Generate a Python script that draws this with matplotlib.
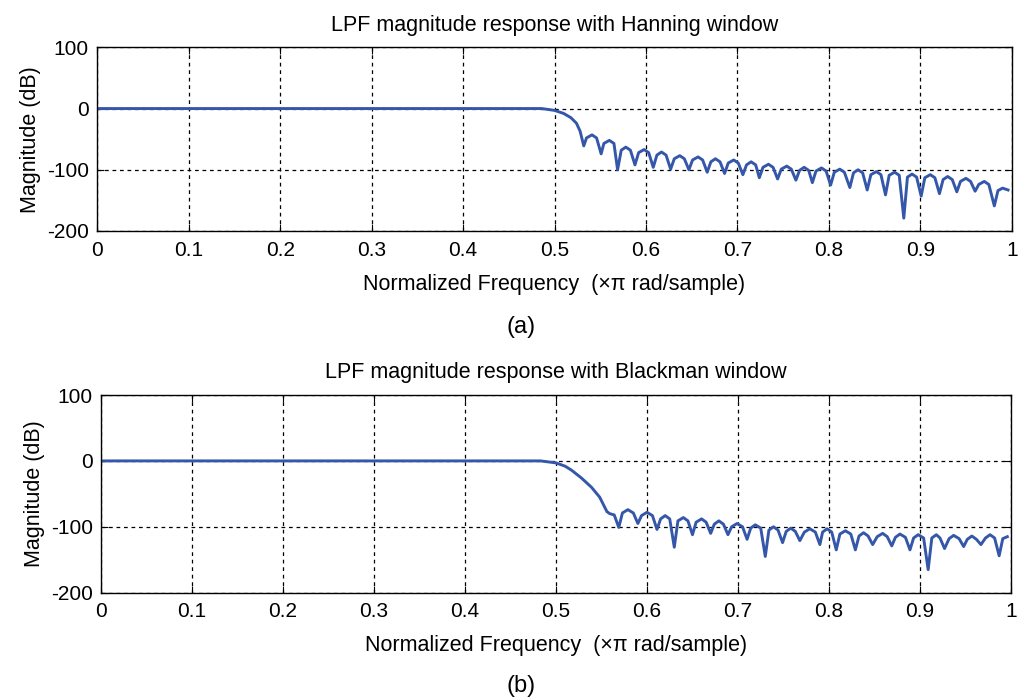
import matplotlib
matplotlib.use("Agg")
import matplotlib.pyplot as plt

plt.rcParams['font.family'] = ['Liberation Sans', 'DejaVu Sans']
plt.rcParams['axes.unicode_minus'] = False

# Hanning window response (normalized freq, dB)
han_freq = [0.000, 0.486, 0.500, 0.510, 0.518, 0.524, 0.528,
            0.532, 0.535, 0.541, 0.546, 0.551, 0.554, 0.560, 0.565,
            0.569, 0.573, 0.578, 0.583, 0.588, 0.592, 0.598, 0.603,
            0.608, 0.612, 0.617, 0.622, 0.627, 0.631, 0.637, 0.642,
            0.647, 0.651, 0.657, 0.662, 0.667, 0.671, 0.676, 0.681,
            0.686, 0.690, 0.696, 0.701, 0.706, 0.710, 0.715, 0.720,
            0.724, 0.728, 0.734, 0.739, 0.744, 0.748, 0.754, 0.759,
            0.764, 0.768, 0.773, 0.778, 0.782, 0.786, 0.792, 0.797,
            0.802, 0.806, 0.812, 0.817, 0.823, 0.827, 0.832, 0.837,
            0.842, 0.846, 0.852, 0.857, 0.862, 0.866, 0.872, 0.877,
            0.882, 0.886, 0.891, 0.896, 0.901, 0.905, 0.911, 0.916,
            0.921, 0.925, 0.930, 0.935, 0.940, 0.944, 0.950, 0.955,
            0.960, 0.964, 0.970, 0.975, 0.981, 0.985, 0.990, 0.996]
han_db = [0, 0, -3, -8, -15, -24, -37,
          -61, -48, -43, -48, -74, -57, -52, -57,
          -100, -68, -63, -68, -92, -72, -67, -72,
          -96, -76, -71, -76, -99, -82, -77, -82,
          -100, -84, -79, -84, -104, -87, -82, -87,
          -106, -89, -84, -89, -108, -92, -87, -92,
          -113, -96, -91, -96, -115, -99, -94, -99,
          -117, -101, -96, -101, -121, -102, -97, -102,
          -125, -104, -99, -104, -129, -105, -100, -105,
          -133, -108, -103, -108, -141, -109, -104, -109,
          -179, -112, -107, -112, -143, -113, -108, -113,
          -139, -116, -111, -116, -136, -119, -114, -119,
          -135, -124, -119, -124, -159, -134, -130, -133]

# Blackman window response
blk_freq = [0.000, 0.483, 0.500, 0.510, 0.517, 0.528, 0.539, 0.548,
            0.556, 0.559, 0.564,
            0.569, 0.573, 0.579, 0.585, 0.590, 0.594, 0.600, 0.606,
            0.611, 0.615, 0.620, 0.625, 0.630, 0.634, 0.640, 0.645,
            0.650, 0.654, 0.660, 0.665, 0.670, 0.674, 0.679, 0.684,
            0.689, 0.693, 0.699, 0.705, 0.710, 0.714, 0.719, 0.725,
            0.730, 0.734, 0.739, 0.744, 0.749, 0.753, 0.758, 0.763,
            0.768, 0.773, 0.779, 0.785, 0.790, 0.793, 0.798, 0.803,
            0.808, 0.812, 0.818, 0.824, 0.829, 0.833, 0.838, 0.843,
            0.848, 0.853, 0.859, 0.864, 0.869, 0.873, 0.878, 0.884,
            0.889, 0.893, 0.898, 0.904, 0.909, 0.913, 0.918, 0.922,
            0.927, 0.932, 0.937, 0.943, 0.948, 0.952, 0.957, 0.962,
            0.967, 0.972, 0.977, 0.982, 0.987, 0.991, 0.996]
blk_db = [0, 0, -3, -8, -14, -26, -40, -55,
          -77, -80, -82,
          -101, -79, -74, -79, -95, -83, -78, -83,
          -104, -88, -83, -88, -131, -91, -86, -91,
          -112, -93, -88, -93, -110, -96, -91, -96,
          -112, -100, -95, -100, -119, -102, -97, -102,
          -145, -105, -100, -105, -124, -107, -102, -107,
          -121, -108, -103, -108, -127, -108, -103, -108,
          -135, -111, -106, -111, -135, -114, -109, -114,
          -127, -115, -110, -115, -129, -116, -111, -116,
          -135, -117, -112, -117, -165, -117, -112, -117,
          -133, -118, -113, -118, -130, -119, -114, -119,
          -127, -117, -112, -117, -144, -118, -115]

panels = [
    (han_freq, han_db, "LPF magnitude response with Hanning window", "(a)"),
    (blk_freq, blk_db, "LPF magnitude response with Blackman window", "(b)"),
]
# axes rectangles in figure fractions
rects = [[0.0956, 0.670, 0.8982, 0.2624],
         [0.0992, 0.1533, 0.8939, 0.2824]]
tag_y = [0.533, 0.020]

fig = plt.figure(figsize=(10.18, 7.0), dpi=100)

for (f, db, title, tag), rect, ty in zip(panels, rects, tag_y):
    ax = fig.add_axes(rect)
    ax.plot(f, db, color='#3557aa', linewidth=2.1)
    ax.set_xlim(0, 1)
    ax.set_ylim(-200, 100)
    ax.set_xticks([0, 0.1, 0.2, 0.3, 0.4, 0.5, 0.6, 0.7, 0.8, 0.9, 1])
    ax.set_xticklabels(['0', '0.1', '0.2', '0.3', '0.4', '0.5', '0.6',
                        '0.7', '0.8', '0.9', '1'])
    ax.set_yticks([-200, -100, 0, 100])
    ax.grid(True, color='black', linestyle=(0, (3, 3)), linewidth=0.9)
    ax.tick_params(direction='in', top=True, right=True, length=5,
                   labelsize=15)
    ax.tick_params(axis='x', pad=7)
    ax.tick_params(axis='y', pad=6)
    for s in ax.spines.values():
        s.set_linewidth(1.0)
    ax.set_title(title, fontsize=15.5, pad=12)
    ax.set_xlabel("Normalized Frequency  (\u00d7\u03c0 rad/sample)",
                  fontsize=15.5, labelpad=10)
    ax.set_ylabel("Magnitude (dB)", fontsize=15.5, labelpad=4)
    fig.text(0.512, ty, tag, fontsize=17, ha='center', va='center')

fig.savefig("out.png", dpi=100)
